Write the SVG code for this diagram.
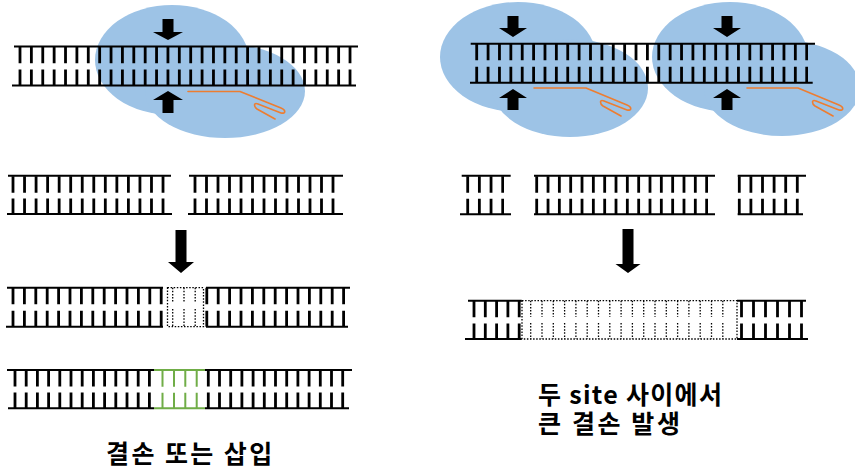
<svg xmlns="http://www.w3.org/2000/svg" width="855" height="472" viewBox="0 0 855 472">
  <defs>
    <style>
      .protein { fill: #9DC3E6; }
      .strand { stroke: #000; stroke-width: 2; fill: none; }
      .rung { stroke: #000; stroke-width: 16.5; fill: none; stroke-dasharray: 2.8 8.58; }
      .rung-lo { stroke: #000; stroke-width: 16; fill: none; stroke-dasharray: 2.8 8.58; }
      .gap { stroke: #000; stroke-width: 1.3; fill: none; stroke-dasharray: 1.5 1.6; }
      .insert { stroke: #70AD47; stroke-width: 2; fill: none; }
      .guide { stroke: #ED7D31; stroke-width: 1.6; fill: none; stroke-linejoin: round; stroke-linecap: round; }
      .pointer { fill: #000; }
      .label { font-family: "Noto Sans CJK KR", "Noto Sans", sans-serif; font-weight: bold; font-size: 25px; fill: #000; }
    </style>
  </defs>

  <!-- Single cut: Cas9 complex on the DNA -->
  <g id="complex-single">
    <ellipse class="protein" cx="172" cy="60" rx="77" ry="55"/>
    <ellipse class="protein" cx="225" cy="91" rx="80" ry="47"/>
  </g>
  <g id="dna-single">
    <path class="strand" d="M14,46.5 H358 M12,85.5 H356"/>
    <path class="rung" d="M18.6,55 H351.5"/>
    <path class="rung-lo" d="M18.6,77.5 H351.5"/>
  </g>
  <g id="guide-single">
    <path class="guide" d="M188,91.5 H240 L281,108 C286,110 286,114 281,113 L258,104 C253,102 254,107 257,109 L275,119"/>
  </g>

  <!-- Two cuts: two complexes on one DNA -->
  <g id="complex-pair">
    <ellipse class="protein" cx="518" cy="57" rx="78" ry="55"/>
    <ellipse class="protein" cx="570" cy="88" rx="78" ry="49"/>
    <ellipse class="protein" cx="730" cy="57" rx="78" ry="55"/>
    <ellipse class="protein" cx="782" cy="88" rx="78" ry="48"/>
  </g>
  <g id="dna-pair">
    <path class="strand" d="M470.7,43.7 H815 M470,82.7 H812.7"/>
    <path class="rung" d="M475.3,52 H808"/>
    <path class="rung-lo" d="M475.3,74.7 H808"/>
  </g>
  <g id="guide-pair">
    <path class="guide" d="M534,88 H586 L627,105 C632,107 632,111 627,110 L604,101 C599,99 600,104 603,106 L621,116"/>
    <path class="guide" d="M747,88 H798 L839,105 C844,107 844,111 839,110 L816,101 C811,99 812,104 815,106 L833,116"/>
  </g>

  <!-- Cut-site pointers -->
  <g id="pointers">
    <path class="pointer" d="M162.5,19 H173.5 V32 H183 L168,40 L153,32 H162.5 Z"/>
    <path class="pointer" d="M168,91 L183,100 H173.5 V113 H162.5 V100 H153 Z"/>
    <path class="pointer" d="M507.5,16 H518.5 V28 H527 L513,37 L499,28 H507.5 Z"/>
    <path class="pointer" d="M513,89 L527,98 H518.5 V110 H507.5 V98 H499 Z"/>
    <path class="pointer" d="M721.5,16 H732.5 V28 H741 L727,37 L713,28 H721.5 Z"/>
    <path class="pointer" d="M727,89 L741,98 H732.5 V110 H721.5 V98 H713 Z"/>
  </g>

  <!-- Broken ends after a single cut -->
  <g id="break-single">
    <path class="strand" d="M8,175.7 H171 M7,214 H172 M189,175.7 H343 M188,214 H343"/>
    <path class="rung" d="M11.6,184.5 H164.5" style="stroke-dasharray:2.8 8.74"/>
    <path class="rung-lo" d="M11.6,206.5 H164.5" style="stroke-dasharray:2.8 8.74"/>
    <path class="rung" d="M193.6,184.5 H334.5" style="stroke-dasharray:2.8 8.7"/>
    <path class="rung-lo" d="M193.6,206.5 H334.5" style="stroke-dasharray:2.8 8.7"/>
  </g>

  <!-- Broken pieces after two cuts -->
  <g id="break-pair">
    <path class="strand" d="M461.7,175.7 H510.7 M460,214.3 H511 M534,175.7 H715 M534,214.3 H715 M737.7,175.7 H806 M737.7,214.3 H803"/>
    <path class="rung" d="M466.3,184.5 H504" style="stroke-dasharray:2.8 8.87"/>
    <path class="rung-lo" d="M466.3,206.8 H504" style="stroke-dasharray:2.8 8.87"/>
    <path class="rung" d="M535.3,184.5 H708" style="stroke-dasharray:2.8 8.53"/>
    <path class="rung-lo" d="M535.3,206.8 H708" style="stroke-dasharray:2.8 8.53"/>
    <path class="rung" d="M737.9,184.5 H799" style="stroke-dasharray:2.8 8.8"/>
    <path class="rung-lo" d="M737.9,206.8 H799" style="stroke-dasharray:2.8 8.8"/>
  </g>

  <!-- Repair arrows -->
  <g id="repair-arrows">
    <path class="pointer" d="M175.5,230 H186.5 V262 H194 L181,273 L168,262 H175.5 Z"/>
    <path class="pointer" d="M622.5,229 H633.5 V264 H640.5 L628,273 L615.5,264 H622.5 Z"/>
  </g>

  <!-- Repair with a small deletion -->
  <g id="repair-deletion">
    <path class="strand" d="M7,287.7 H163 M206,287.7 H350 M6,326.7 H163 M206,326.7 H348"/>
    <path class="rung" d="M11.6,296 H163" style="stroke-dasharray:2.8 8.6"/>
    <path class="rung-lo" d="M11.6,318.7 H163" style="stroke-dasharray:2.8 8.6"/>
    <path class="rung" d="M205.4,296 H345" style="stroke-dasharray:2.8 8.6"/>
    <path class="rung-lo" d="M205.4,318.7 H345" style="stroke-dasharray:2.8 8.6"/>
    <rect class="gap" x="167.5" y="287.7" width="36" height="39"/>
    <path class="gap" d="M172.7,287.7 V303 M184,287.7 V303 M195.2,287.7 V303 M172.7,309 V326.7 M184,309 V326.7 M195.2,309 V326.7"/>
  </g>

  <!-- Repair with a small insertion -->
  <g id="repair-insertion">
    <path class="strand" d="M7,370 H154 M205,370 H352 M8,408.3 H154 M205,408.3 H349"/>
    <path class="rung" d="M13.6,378.3 H151" style="stroke-dasharray:2.8 8.4"/>
    <path class="rung-lo" d="M13.6,400.5 H151" style="stroke-dasharray:2.8 8.4"/>
    <path class="rung" d="M206.9,378.3 H345" style="stroke-dasharray:2.8 8.4"/>
    <path class="rung-lo" d="M206.9,400.5 H345" style="stroke-dasharray:2.8 8.4"/>
    <path class="insert" d="M154,370 H205 M154,408.3 H205 M162.5,370 V386.7 M174,370 V386.7 M185.3,370 V386.7 M196.7,370 V386.7 M162.5,392.7 V408.3 M174,392.7 V408.3 M185.3,392.7 V408.3 M196.7,392.7 V408.3"/>
  </g>

  <!-- Repair joining the outer ends: large deletion -->
  <g id="repair-large-deletion">
    <path class="strand" d="M468,300.7 H521.7 M465,339 H521.7 M737,300.7 H806 M737,339 H808"/>
    <path class="rung" d="M472.6,309 H521" style="stroke-dasharray:2.8 8.5"/>
    <path class="rung-lo" d="M472.6,331.5 H521" style="stroke-dasharray:2.8 8.5"/>
    <path class="rung" d="M740.1,309 H803" style="stroke-dasharray:2.8 9.2"/>
    <path class="rung-lo" d="M740.1,331.5 H803" style="stroke-dasharray:2.8 9.2"/>
    <rect class="gap" x="522" y="300.7" width="215" height="38.3"/>
    <path class="gap" d="M530.7,300.7 V317 M530.7,323 V339 M542,300.7 V317 M542,323 V339 M553.3,300.7 V317 M553.3,323 V339 M564.6,300.7 V317 M564.6,323 V339 M575.9,300.7 V317 M575.9,323 V339 M587.2,300.7 V317 M587.2,323 V339 M598.5,300.7 V317 M598.5,323 V339 M609.8,300.7 V317 M609.8,323 V339 M621.1,300.7 V317 M621.1,323 V339 M632.4,300.7 V317 M632.4,323 V339 M643.7,300.7 V317 M643.7,323 V339 M655,300.7 V317 M655,323 V339 M666.3,300.7 V317 M666.3,323 V339 M677.6,300.7 V317 M677.6,323 V339 M688.9,300.7 V317 M688.9,323 V339 M700.2,300.7 V317 M700.2,323 V339 M711.5,300.7 V317 M711.5,323 V339 M722.8,300.7 V317 M722.8,323 V339"/>
  </g>

  <!-- Captions -->
  <g id="captions">
    <text class="label" x="106" y="463" style="letter-spacing:2.4px">결손 또는 삽입</text>
    <text class="label"><tspan x="538" y="403.5" style="letter-spacing:1.3px">두 site 사이에서</tspan><tspan x="538" y="432.5" style="letter-spacing:2.6px">큰 결손 발생</tspan></text>
  </g>
</svg>
